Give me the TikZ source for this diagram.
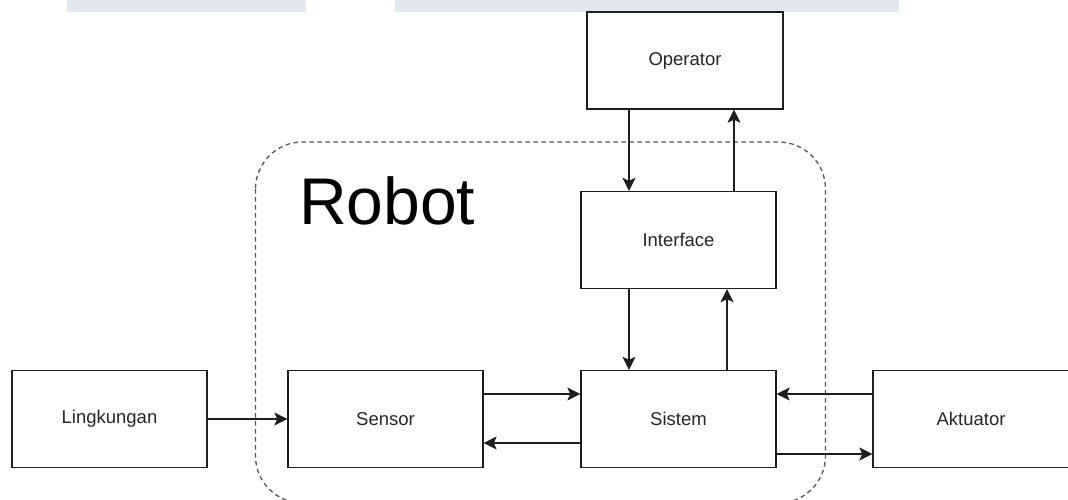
\documentclass[tikz,border=0pt]{standalone}
\usepackage{fontspec}
\setmainfont{Liberation Sans}
\usetikzlibrary{arrows.meta,calc}
\definecolor{barcol}{HTML}{E3E7EF}
\definecolor{linecol}{HTML}{1E1E1E}
\definecolor{dashcol}{HTML}{555555}
\tikzset{
  blk/.style={draw=linecol, line width=1.4pt, rectangle, fill=white,
    minimum width=195pt, minimum height=97pt, inner sep=0pt,
    text=black!85, font=\fontsize{18.5}{20}\selectfont},
  arr/.style={draw=linecol, line width=1.4pt,
    -{Stealth[length=13pt,width=13pt,inset=3pt,line width=0.6pt]}},
}
\begin{document}
\begin{tikzpicture}[x=1pt,y=-1pt]
\useasboundingbox (0,0) rectangle (1068,499);
\fill[white] (0,0) rectangle (1068,499);
% top bars
\fill[barcol] (67,0) rectangle (306,12);
\fill[barcol] (395,0) rectangle (899,12);
% robot boundary
\draw[dashcol, line width=1.3pt, dash pattern=on 4.5pt off 3.5pt, rounded corners=47pt]
  (255.5,142) rectangle (825.5,503);
\node[anchor=base west, font=\fontsize{66}{68}\selectfont, inner sep=0pt] (robot) at (299,224) {Robot};
% blocks
\node[blk] (lingkungan) at (109.5,419) {Lingkungan};
\node[blk] (sensor) at (385.5,419) {Sensor};
\node[blk] (sistem) at (678.5,419) {Sistem};
\node[blk, minimum width=196pt] (aktuator) at (971,419) {Aktuator};
\node[blk] (interface) at (678.5,240) {Interface};
\node[blk, minimum width=196pt] (operator) at (685,60.5) {Operator};
% connectors
\draw[arr] (lingkungan.east) -- (sensor.west);
\draw[arr] (sensor.east |- 0,394) -- (sistem.west |- 0,394);
\draw[arr] (sistem.west |- 0,443) -- (sensor.east |- 0,443);
\draw[arr] (aktuator.west |- 0,394) -- (sistem.east |- 0,394);
\draw[arr] (sistem.east |- 0,454) -- (aktuator.west |- 0,454);
\draw[arr] (operator.south -| 629,0) -- (interface.north -| 629,0);
\draw[arr] (interface.north -| 734,0) -- (operator.south -| 734,0);
\draw[arr] (interface.south -| 629,0) -- (sistem.north -| 629,0);
\draw[arr] (sistem.north -| 727,0) -- (interface.south -| 727,0);
\end{tikzpicture}
\end{document}
